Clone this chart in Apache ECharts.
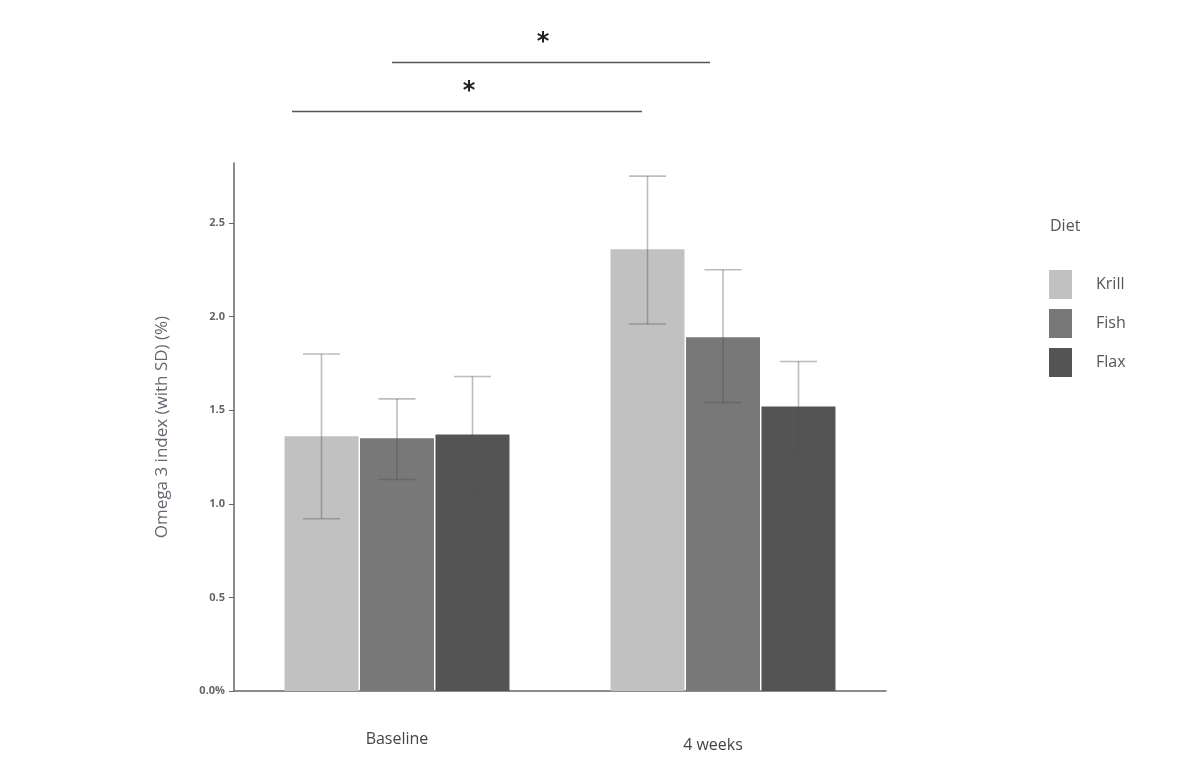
<!DOCTYPE html>
<html>
<head>
<meta charset="utf-8">
<title>Omega 3 index</title>
<script src="https://cdn.jsdelivr.net/npm/echarts@6/dist/echarts.min.js"></script>
<style>
  html, body { margin: 0; padding: 0; background: #fff; }
  #chart { width: 1201px; height: 780px; }
</style>
</head>
<body>
<div id="chart"></div>
<script>
// 数据（从图上读出来的估计值）
var categories = ['Baseline', '4 weeks'];
var diets = ['Krill', 'Fish', 'Flax'];
var krillMean = [1.36, 2.36];
var fishMean = [1.35, 1.89];
var flaxMean = [1.37, 1.52];
// 误差线 上下端 (mean ± SD)
var krillLow = [0.92, 1.96], krillHigh = [1.80, 2.75];
var fishLow = [1.13, 1.54], fishHigh = [1.56, 2.25];
var flaxLow = [1.06, 1.28], flaxHigh = [1.68, 1.76];
var yTicks = [0, 0.5, 1, 1.5, 2, 2.5];

var colors = ['#c1c1c1', '#787878', '#545454'];
var BAR_W = 74;
var BAR_GAP = 1.5;

var myChart = echarts.init(document.getElementById('chart'));

// 误差线 custom series
function errSeries(idx, low, high) {
  var data = low.map(function (v, i) { return [i, v, high[i]]; });
  return {
    type: 'custom',
    name: diets[idx] + ' SD',
    data: data,
    z: 5,
    silent: true,
    renderItem: function (params, api) {
      var off = (idx - 1) * (BAR_W + BAR_GAP);
      var p1 = api.coord([api.value(0), api.value(1)]);
      var p2 = api.coord([api.value(0), api.value(2)]);
      var x = p1[0] + off;
      var half = BAR_W / 4;
      var style = { stroke: 'rgba(80,80,80,0.38)', lineWidth: 1.6 };
      return {
        type: 'group',
        children: [
          { type: 'line', shape: { x1: x, y1: p1[1], x2: x, y2: p2[1] }, style: style },
          { type: 'line', shape: { x1: x - half, y1: p1[1], x2: x + half, y2: p1[1] }, style: style },
          { type: 'line', shape: { x1: x - half, y1: p2[1], x2: x + half, y2: p2[1] }, style: style }
        ]
      };
    }
  };
}

function barSeries(idx, values) {
  return {
    type: 'bar',
    name: diets[idx],
    data: values,
    barWidth: BAR_W,
    barGap: '2%',
    itemStyle: { color: colors[idx] }
  };
}

var option = {
  animation: false,
  color: colors,
  textStyle: { fontFamily: 'Open Sans' },
  title: {
    text: 'Diet',
    left: 1045,
    top: 213,
    textStyle: { fontSize: 16, fontWeight: 'normal', color: '#555' }
  },
  legend: {
    data: diets,
    orient: 'vertical',
    left: 1044,
    top: 265,
    itemWidth: 23,
    itemHeight: 29,
    itemGap: 10,
    icon: 'rect',
    textStyle: { fontSize: 16, color: '#555', padding: [0, 0, 0, 19] }
  },
  grid: { left: 234, right: 315, top: 163, bottom: 89 },
  xAxis: {
    type: 'category',
    data: categories,
    axisLine: { lineStyle: { color: '#666', width: 1.5 } },
    axisTick: { show: false },
    axisLabel: {
      margin: 40,
      formatter: function (v) {
        return v === 'Baseline' ? '{a|' + v + '}' : '{b|' + v + '}';
      },
      rich: {
        a: { fontSize: 16, color: '#444', fontFamily: 'Open Sans' },
        b: { fontSize: 16, color: '#444', fontFamily: 'Open Sans', padding: [6, 20, 0, 0] }
      }
    }
  },
  yAxis: {
    type: 'value',
    min: 0,
    max: 2.82,
    interval: 0.5,
    name: 'Omega 3 index (with SD) (%)',
    nameLocation: 'middle',
    nameGap: 63,
    nameTextStyle: { fontSize: 17, color: '#626870' },
    splitLine: { show: false },
    axisLine: { show: true, lineStyle: { color: '#666', width: 1.5 } },
    axisTick: { show: true, length: 5, customValues: yTicks, lineStyle: { color: '#666' } },
    axisLabel: {
      margin: 9,
      customValues: yTicks,
      fontSize: 11,
      fontWeight: 'bold',
      color: '#666',
      formatter: function (v) {
        return v === 0 ? '0.0%' : v.toFixed(1);
      }
    }
  },
  series: [
    barSeries(0, krillMean),
    barSeries(1, fishMean),
    barSeries(2, flaxMean),
    errSeries(0, krillLow, krillHigh),
    errSeries(1, fishLow, fishHigh),
    errSeries(2, flaxLow, flaxHigh)
  ],
  // 显著性标记
  graphic: [
    { type: 'line', shape: { x1: 392, y1: 62.5, x2: 710, y2: 62.5 }, style: { stroke: '#555', lineWidth: 1.6 } },
    { type: 'text', x: 543, y: 43, style: { text: '*', fill: '#222', align: 'center', verticalAlign: 'middle', font: 'bold 24px "DejaVu Sans"' } },
    { type: 'line', shape: { x1: 292, y1: 111.5, x2: 642, y2: 111.5 }, style: { stroke: '#555', lineWidth: 1.6 } },
    { type: 'text', x: 469, y: 92, style: { text: '*', fill: '#222', align: 'center', verticalAlign: 'middle', font: 'bold 24px "DejaVu Sans"' } }
  ]
};

myChart.setOption(option);
</script>
</body>
</html>
